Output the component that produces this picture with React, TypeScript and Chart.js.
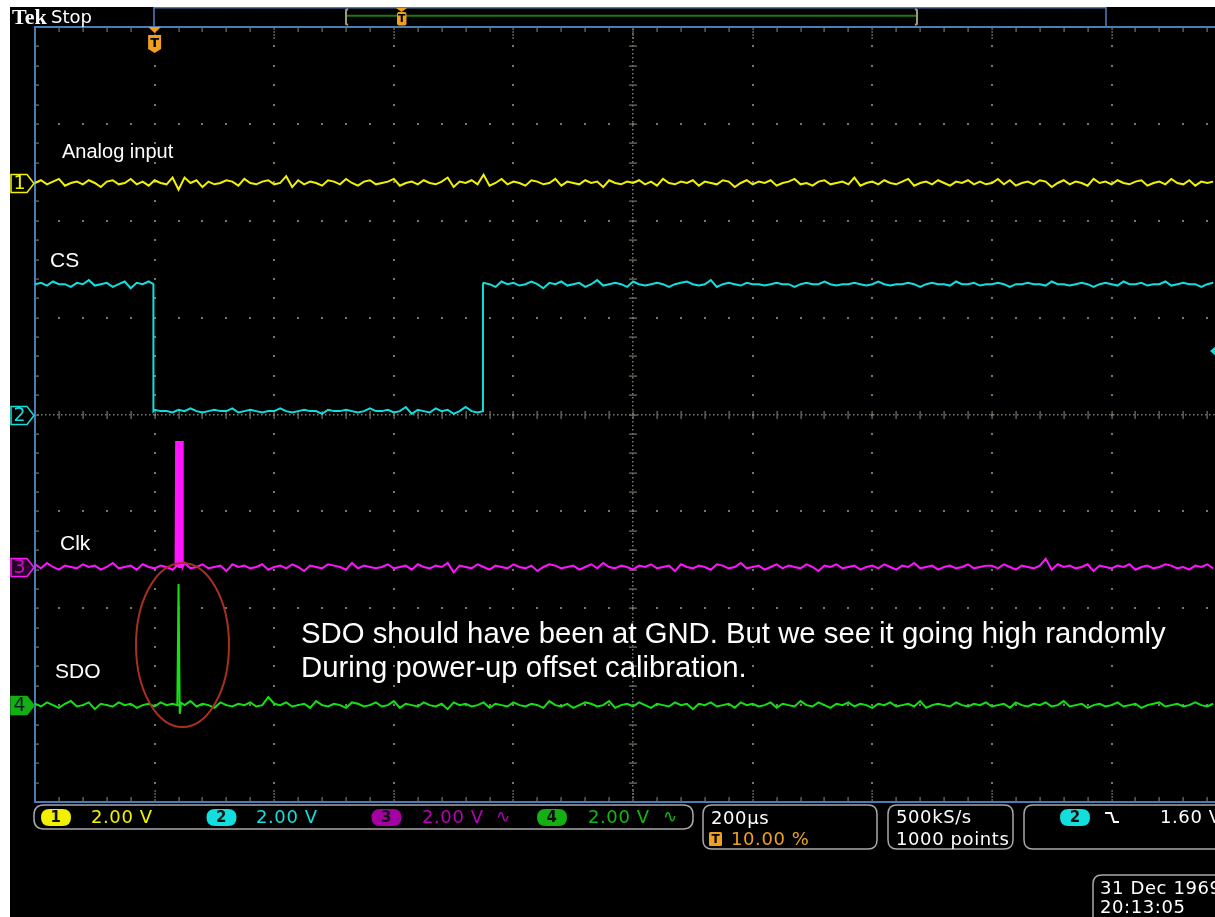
import React, { useEffect, useRef } from "react";
import { Chart, registerables } from "chart.js";

Chart.register(...registerables);

const W = 1215;
const H = 917;

// ---- acquisition settings ----
const timePerDivUs = 200;
const voltsPerDiv = 2;
const xStartUs = -200; // left graticule edge, trigger at 10 %
const xVisibleEndUs = 1773;
const noiseStepUs = 10;
const noiseLsbV = 0.028;

const channelNames = ["Analog input", "CS", "Clk", "SDO"];
const channelOffsetsDiv = [2.39, 0, -1.574, -3.0];
const channelScaleLabels = ["2.00 V", "2.00 V", "2.00 V", "2.00 V"];
const timebaseLabel = "200µs";
const triggerPosLabel = "10.00 %";
const sampleRateLabel = "500kS/s";
const recordLabel = "1000 points";
const triggerLevelLabel = "1.60 V";
const dateLabel = "31 Dec 1969";
const timeLabel = "20:13:05";
const annotationLines = [
  "SDO should have been at GND. But we see it going high randomly",
  "During power-up offset calibration.",
];

// ---- CS (channel 2) levels and edges ----
const csHighV = 2.69;
const csLowV = 0.07;
const csEdgeTimesUs = [-2, 549];

// ---- Clk (channel 3) burst ----
const clkBurstTimesUs = [35, 36, 37, 38, 39, 40, 41, 42, 43, 44, 45, 46, 47];
const clkBurstV = [0, 2.6, 0, 2.6, 0, 2.6, 0, 2.6, 0, 2.6, 0, 2.6, 0];

// ---- SDO (channel 4) glitch ----
const sdoSpikeTimesUs = [38, 40, 42, 44];
const sdoSpikeV = [0, 2.5, -0.18, 0.05];

// ---- baseline noise, in units of noiseLsbV, one value every noiseStepUs ----
const ch1Noise = [
  0, 2, -1, 1, 3, -2, 0, 1, -1, 2, 0, -3, 1, 2, -1, 0, 3, -1, 1, -2,
  2, 0, -1, 4, -5, 4, 0, 2, -3, 1, -1, 0, 2, 1, -2, 3, 0, -1, 1, 2,
  -1, 0, 5, -3, 2, -1, 1, 0, -2, 2, 1, -1, 3, 0, -2, 1, 2, -1, 0, 1,
  3, -2, 0, 1, -1, 2, 0, -1, 1, 4, -3, 1, 0, 2, -1, 6, -2, 0, 3, -1,
  1, 0, -2, 2, 1, -1, 0, 3, -2, 1, 0, -1, 2, 0, 1, -3, 2, 0, -1, 1,
  0, 2, -1, 1, -2, 3, 0, -1, 1, 0, 2, -2, 1, 0, -1, 2, 1, -3, 0, 2,
  -1, 1, 0, 2, -2, 0, 1, 3, -1, 0, -2, 1, 2, -1, 0, 1, -1, 4, -2, 0,
  1, -1, 2, 0, -1, 1, 3, -2, 0, 1, -1, 2, 0, -2, 1, 0, 2, -1, 1, -1,
  0, 3, -1, 2, -2, 0, 1, -1, 2, 1, -3, 0, 2, -1, 1, 0, -2, 3, 0, 1,
  -1, 2, 0, -1, 1, 2, -2, 0, 1, -1, 3, 0, -1, 2, -2, 1, 0, 1,
];
const ch2Noise = [
  0, 1, -1, 2, 0, 0, -2, 1, 0, 3, -1, 0, 1, -2, 0, 2, -3, 1, 0, 2,
  1, 0, 0, -1, 1, 0, 2, 0, -1, 0, 1, 0, 0, 2, -1, 0, 1, 0, -1, 0,
  0, 2, 0, -1, 0, 1, 0, 0, -2, 1, 0, 0, 1, 0, -1, 0, 2, 0, 0, 1,
  -1, 0, 3, -2, 1, 0, -1, 2, 0, 1, -2, 0, 3, 0, -1, 1, 0, -2, 2, 0,
  1, -1, 0, 2, 0, -3, 1, 0, 2, -1, 0, 1, -2, 0, 3, -1, 0, 1, 0, -2,
  2, 0, -1, 0, 1, 0, -2, 0, 1, 2, 0, -1, 0, 3, -2, 0, 1, 0, -1, 1,
  0, 0, -1, 0, 1, 0, 0, -2, 0, 1, 0, 0, 2, 0, -1, 0, 0, 1, 0, -1,
  0, 2, 0, -1, 0, 0, 1, 0, -2, 0, 1, 0, 0, -1, 2, 0, 0, 1, -1, 0,
  0, 1, 0, -2, 0, 0, 1, 0, 0, -1, 2, 0, 0, -1, 0, 1, 0, -2, 0, 1,
  0, -1, 2, 0, 0, 1, -1, 0, 0, 2, -1, 0, 1, 0, 0, -2, 0, 1,
];
const ch3Noise = [
  2, -1, 3, 0, -2, 1, 0, -1, 2, 0, 1, -2, 0, 3, -1, 0, 1, -2, 2, 0,
  -1, 1, 0, -2, 1, 3, -1, 0, 2, -1, 0, 1, -3, 2, 0, 1, -1, 0, 2, -2,
  0, 1, -1, 2, 0, -3, 1, 0, -1, 2, 1, 0, -2, 3, -1, 1, 0, -1, 0, 2,
  -1, 0, 1, -2, 2, 0, -1, 1, 0, 3, -4, 1, 0, -1, 2, 0, -2, 1, 0, -1,
  2, 0, -1, 1, -3, 0, 2, 1, -1, 0, 1, -2, 0, 2, -1, 3, 0, -1, 1, 0,
  -2, 1, 0, 2, -1, 0, 1, -3, 2, 0, -1, 1, 0, -2, 2, 1, -1, 0, 3, -1,
  0, 1, -2, 0, 2, -1, 1, 0, -1, 2, 0, -3, 1, 0, 2, -1, 0, 1, -2, 0,
  1, -1, 2, 0, -2, 1, 0, 3, -1, 0, 1, -2, 0, 1, -1, 0, 2, -1, 0, 1,
  1, -1, 2, 0, -2, 1, 0, -1, 1, 6, -2, 2, 0, 1, -1, 0, 2, -3, 1, 0,
  -1, 1, 0, 2, -2, 0, 1, -1, 0, 2, 1, -1, 0, -2, 1, 0, 2, -1,
];
const ch4Noise = [
  1, -1, 2, 0, -2, 1, 3, -1, 0, 2, -3, 1, 0, -1, 2, 0, 1, -2, 0, 1,
  -1, 2, 0, 1, -2, 0, 3, -1, 1, 0, -2, 2, 0, -1, 1, 0, 2, -1, 0, 6,
  1, 0, 2, -1, 0, 1, -2, 3, 0, -1, 1, 0, -2, 2, 1, -1, 0, 2, -1, 0,
  3, -2, 1, 0, -1, 2, 0, -1, 1, -3, 2, 0, 1, -1, 0, 2, -2, 1, 0, -1,
  2, 0, -1, 1, 0, -2, 3, 0, -1, 1, -2, 0, 2, 1, -1, 0, 3, -2, 0, 1,
  -1, 2, 0, -2, 1, 0, -1, 2, 0, 1, -3, 1, 0, 2, -1, 0, 1, -2, 2, 0,
  1, -1, 0, 2, -2, 1, 0, -1, 3, 0, -1, 2, 0, -2, 1, 0, 2, -1, 1, 0,
  -2, 1, 0, 2, -1, 0, 1, -1, 3, -2, 0, 1, 0, -1, 2, 0, -1, 1, 0, 2,
  -1, 0, 1, -2, 2, 0, -1, 1, 0, 2, -1, 0, 3, -1, 0, 1, -2, 0, 1, -1,
  0, 2, -1, 0, 1, -2, 0, 1, 2, -1, 0, 1, -1, 0, 2, 0, -1, 1,
];

const COLORS = {
  ch1: "#f2f200",
  ch2: "#12dede",
  ch3: "#ff14ff",
  ch4: "#14e014",
  border: "#4a7cb6",
  grid: "#77776a",
  orange: "#f0a020",
};

type Pt = { x: number; y: number };

function toDiv(offsetDiv: number, v: number) {
  return offsetDiv + v / voltsPerDiv;
}

function noisePoints(
  noise: number[],
  offsetDiv: number,
  level: (t: number) => number,
  skip?: [number, number]
): Pt[] {
  const pts: Pt[] = [];
  noise.forEach((n, i) => {
    const t = xStartUs + i * noiseStepUs;
    if (skip && t > skip[0] && t < skip[1]) return;
    pts.push({ x: t, y: toDiv(offsetDiv, level(t) + n * noiseLsbV) });
  });
  return pts;
}

function buildData() {
  const ch1 = noisePoints(ch1Noise, channelOffsetsDiv[0], () => 0);

  const csLevel = (t: number) =>
    t < csEdgeTimesUs[0] || t >= csEdgeTimesUs[1] ? csHighV : csLowV;
  const csEdges: Pt[] = [
    { x: csEdgeTimesUs[0], y: toDiv(channelOffsetsDiv[1], csHighV) },
    { x: csEdgeTimesUs[0], y: toDiv(channelOffsetsDiv[1], csLowV) },
    { x: csEdgeTimesUs[1], y: toDiv(channelOffsetsDiv[1], csLowV) },
    { x: csEdgeTimesUs[1], y: toDiv(channelOffsetsDiv[1], csHighV) },
  ];
  const ch2 = noisePoints(ch2Noise, channelOffsetsDiv[1], csLevel)
    .concat(csEdges)
    .sort((a, b) => a.x - b.x);

  const clkPts = clkBurstTimesUs.map((t, i) => ({
    x: t,
    y: toDiv(channelOffsetsDiv[2], clkBurstV[i]),
  }));
  const ch3 = noisePoints(ch3Noise, channelOffsetsDiv[2], () => 0, [30, 50])
    .concat(clkPts)
    .sort((a, b) => a.x - b.x);

  const sdoPts = sdoSpikeTimesUs.map((t, i) => ({
    x: t,
    y: toDiv(channelOffsetsDiv[3], sdoSpikeV[i]),
  }));
  const ch4 = noisePoints(ch4Noise, channelOffsetsDiv[3], () => 0, [30, 50])
    .concat(sdoPts)
    .sort((a, b) => a.x - b.x);

  return [ch1, ch2, ch3, ch4];
}

function roundRect(
  ctx: CanvasRenderingContext2D,
  x: number,
  y: number,
  w: number,
  h: number,
  r: number
) {
  ctx.beginPath();
  ctx.moveTo(x + r, y);
  ctx.lineTo(x + w - r, y);
  ctx.quadraticCurveTo(x + w, y, x + w, y + r);
  ctx.lineTo(x + w, y + h - r);
  ctx.quadraticCurveTo(x + w, y + h, x + w - r, y + h);
  ctx.lineTo(x + r, y + h);
  ctx.quadraticCurveTo(x, y + h, x, y + h - r);
  ctx.lineTo(x, y + r);
  ctx.quadraticCurveTo(x, y, x + r, y);
  ctx.closePath();
}

const scopePlugin = {
  id: "scopeScreen",
  beforeDraw(chart: any) {
    const ctx: CanvasRenderingContext2D = chart.ctx;
    ctx.save();
    ctx.fillStyle = "#ffffff";
    ctx.fillRect(0, 0, W, H);
    ctx.fillStyle = "#000000";
    ctx.fillRect(10, 7, W - 10, H - 7);
    ctx.restore();
  },
  beforeDatasetsDraw(chart: any) {
    const ctx: CanvasRenderingContext2D = chart.ctx;
    const xs = chart.scales.x;
    const ys = chart.scales.y;
    const left = xs.getPixelForValue(xStartUs);
    const divW = xs.getPixelForValue(xStartUs + timePerDivUs) - left;
    const top = ys.getPixelForValue(4);
    const bottom = ys.getPixelForValue(-4);
    const divH = ys.getPixelForValue(0) - ys.getPixelForValue(1);
    const cx = left + 5 * divW;
    const cy = ys.getPixelForValue(0);
    ctx.save();
    ctx.fillStyle = COLORS.grid;
    // vertical major lines (dotted)
    for (let k = 1; k <= 9; k++) {
      if (k === 5) continue;
      const x = Math.round(left + k * divW);
      for (let m = 1; m < 40; m++) {
        const y = Math.round(top + (m * divH) / 5);
        ctx.fillRect(x - 1, y - 1, 2, 2);
      }
    }
    // horizontal major lines (dotted)
    for (let j = 1; j <= 7; j++) {
      if (j === 4) continue;
      const y = Math.round(top + j * divH);
      for (let m = 1; m < 50; m++) {
        const x = Math.round(left + (m * divW) / 5);
        if (x > W) break;
        ctx.fillRect(x - 1, y - 1, 2, 2);
      }
    }
    // center vertical line
    for (let y = top + 2; y < bottom; y += 4) ctx.fillRect(Math.round(cx) - 1, y, 1.5, 1.5);
    for (let m = 1; m < 40; m++) {
      const y = Math.round(top + (m * divH) / 5);
      ctx.fillRect(Math.round(cx) - 4, y - 0.5, 8, 1.2);
    }
    // center horizontal line
    for (let x = left + 2; x < W; x += 4) ctx.fillRect(x, Math.round(cy) - 1, 1.5, 1.5);
    for (let m = 1; m < 50; m++) {
      const x = Math.round(left + (m * divW) / 5);
      if (x > W) break;
      ctx.fillRect(x - 0.5, Math.round(cy) - 4, 1.2, 8);
    }
    // border ticks
    for (let m = 1; m < 50; m++) {
      const x = Math.round(left + (m * divW) / 5);
      if (x > W) break;
      if (m % 5 === 0) {
        for (let d = 0; d < 12; d += 3) {
          ctx.fillRect(x - 0.5, top + 1 + d, 1.2, 2);
          ctx.fillRect(x - 0.5, bottom - 3 - d, 1.2, 2);
        }
      } else {
        ctx.fillRect(x - 0.5, top + 1, 1.2, 4);
        ctx.fillRect(x - 0.5, bottom - 5, 1.2, 4);
      }
    }
    for (let m = 1; m < 40; m++) {
      const y = Math.round(top + (m * divH) / 5);
      ctx.fillRect(left + 1, y - 0.5, 3, 1.2);
    }
    // blue borders
    ctx.strokeStyle = COLORS.border;
    ctx.lineWidth = 2;
    ctx.beginPath();
    ctx.moveTo(left, top);
    ctx.lineTo(left, bottom);
    ctx.moveTo(left - 1, top);
    ctx.lineTo(W, top);
    ctx.moveTo(left - 1, bottom);
    ctx.lineTo(W, bottom);
    ctx.stroke();
    // record view bar
    ctx.lineWidth = 1.6;
    ctx.beginPath();
    ctx.moveTo(154, top);
    ctx.lineTo(154, 7.8);
    ctx.lineTo(1106, 7.8);
    ctx.lineTo(1106, top);
    ctx.stroke();
    ctx.strokeStyle = "#1a7a1a";
    ctx.lineWidth = 2;
    ctx.beginPath();
    ctx.moveTo(347, 15.7);
    ctx.lineTo(916, 15.7);
    ctx.stroke();
    ctx.strokeStyle = "#a09878";
    ctx.lineWidth = 2;
    ctx.beginPath();
    ctx.moveTo(348, 9);
    ctx.lineTo(346, 10);
    ctx.lineTo(346, 24);
    ctx.lineTo(348, 25);
    ctx.moveTo(915, 9);
    ctx.lineTo(917, 10);
    ctx.lineTo(917, 24);
    ctx.lineTo(915, 25);
    ctx.stroke();
    ctx.restore();
  },
  afterDraw(chart: any) {
    const ctx: CanvasRenderingContext2D = chart.ctx;
    const xs = chart.scales.x;
    const ys = chart.scales.y;
    const top = ys.getPixelForValue(4);
    const trigX = xs.getPixelForValue(0);
    ctx.save();

    // Tek Stop
    ctx.fillStyle = "#ffffff";
    ctx.textBaseline = "alphabetic";
    ctx.font = "bold 22px 'Liberation Serif'";
    ctx.fillText("Tek", 12, 24);
    ctx.font = "18px 'DejaVu Sans'";
    ctx.fillText("Stop", 51, 23);

    // trigger markers
    const drawT = (x: number, y: number, size: number) => {
      ctx.fillStyle = "#000";
      ctx.font = `bold ${size}px 'DejaVu Sans'`;
      ctx.textAlign = "center";
      ctx.textBaseline = "middle";
      ctx.fillText("T", x, y);
      ctx.textAlign = "left";
      ctx.textBaseline = "alphabetic";
    };
    ctx.fillStyle = COLORS.orange;
    ctx.beginPath();
    ctx.moveTo(trigX - 6.5, top);
    ctx.lineTo(trigX + 6.5, top);
    ctx.lineTo(trigX, top + 6);
    ctx.closePath();
    ctx.fill();
    ctx.beginPath();
    ctx.moveTo(trigX - 6.5, top + 8);
    ctx.lineTo(trigX + 6.5, top + 8);
    ctx.lineTo(trigX + 6.5, top + 22);
    ctx.lineTo(trigX, top + 26);
    ctx.lineTo(trigX - 6.5, top + 22);
    ctx.closePath();
    ctx.fill();
    drawT(trigX, top + 16.5, 13);
    ctx.fillStyle = COLORS.orange;
    ctx.beginPath();
    ctx.moveTo(396, 8);
    ctx.lineTo(407, 8);
    ctx.lineTo(401.5, 12);
    ctx.closePath();
    ctx.fill();
    roundRect(ctx, 397, 12, 9.5, 13.5, 2);
    ctx.fill();
    drawT(401.7, 19, 11);

    // channel markers
    const chColors = [COLORS.ch1, COLORS.ch2, COLORS.ch3, COLORS.ch4];
    channelOffsetsDiv.forEach((off, i) => {
      const y = Math.round(ys.getPixelForValue(off)) + 0.5;
      ctx.beginPath();
      ctx.moveTo(11, y - 9);
      ctx.lineTo(27, y - 9);
      ctx.lineTo(34, y);
      ctx.lineTo(27, y + 9);
      ctx.lineTo(11, y + 9);
      ctx.closePath();
      ctx.fillStyle = i === 3 ? "#12b012" : i === 2 ? "#2a002a" : "#000";
      ctx.fill();
      ctx.strokeStyle = i === 3 ? "#12b012" : chColors[i];
      ctx.lineWidth = 1.5;
      ctx.stroke();
      ctx.fillStyle = i === 3 ? "#022" : i === 2 ? "#c010c0" : chColors[i];
      ctx.font = "19px 'DejaVu Sans'";
      ctx.textAlign = "center";
      ctx.textBaseline = "middle";
      ctx.fillText(String(i + 1), 19.5, y + 1);
      ctx.textAlign = "left";
      ctx.textBaseline = "alphabetic";
    });

    // channel name labels
    ctx.fillStyle = "#ffffff";
    ctx.font = "20px 'Liberation Sans'";
    ctx.fillText(channelNames[0], 62, 158);
    ctx.font = "21px 'Liberation Sans'";
    ctx.fillText(channelNames[1], 50, 267);
    ctx.fillText(channelNames[2], 60, 550);
    ctx.fillText(channelNames[3], 55, 678);

    // annotation
    ctx.font = "29.3px 'Liberation Sans'";
    ctx.fillText(annotationLines[0], 301, 643);
    ctx.fillText(annotationLines[1], 301, 677);

    // red ellipse
    ctx.strokeStyle = "#a83020";
    ctx.lineWidth = 2;
    ctx.beginPath();
    ctx.ellipse(182.5, 645, 46.5, 82, 0, 0, Math.PI * 2);
    ctx.stroke();

    // trigger level marker at right edge
    ctx.fillStyle = COLORS.ch2;
    ctx.beginPath();
    ctx.moveTo(1210, 351);
    ctx.lineTo(1216, 346);
    ctx.lineTo(1216, 356);
    ctx.closePath();
    ctx.fill();

    // bottom readouts
    ctx.strokeStyle = "#a8a8a8";
    ctx.lineWidth = 1.5;
    roundRect(ctx, 34, 805, 659, 24, 10);
    ctx.stroke();
    roundRect(ctx, 703, 805, 174, 44, 9);
    ctx.stroke();
    roundRect(ctx, 888, 805, 125, 44, 9);
    ctx.stroke();
    roundRect(ctx, 1024, 805, 230, 44, 9);
    ctx.stroke();
    roundRect(ctx, 1093, 875, 160, 60, 9);
    ctx.stroke();

    const pill = (cx: number, fill: string, label: string) => {
      ctx.fillStyle = fill;
      roundRect(ctx, cx - 15, 809, 30, 17, 8.5);
      ctx.fill();
      ctx.fillStyle = "#111";
      ctx.font = "bold 15px 'DejaVu Sans'";
      ctx.textAlign = "center";
      ctx.textBaseline = "middle";
      ctx.fillText(label, cx, 818);
      ctx.textAlign = "left";
      ctx.textBaseline = "alphabetic";
    };
    const pillFills = ["#f2f200", "#12dede", "#a400a4", "#12b012"];
    const pillX = [56, 221.5, 386.5, 552];
    const textX = [91, 256, 422, 588];
    const textColors = ["#f2f200", "#12dede", "#b800b8", "#12b812"];
    ctx.letterSpacing = "0.6px";
    channelScaleLabels.forEach((lab, i) => {
      pill(pillX[i], pillFills[i], String(i + 1));
      ctx.fillStyle = textColors[i];
      ctx.font = "18px 'DejaVu Sans'";
      ctx.fillText(lab, textX[i], 823);
    });
    ctx.font = "17px 'DejaVu Sans'";
    ctx.fillStyle = textColors[2];
    ctx.fillText("∿", 496, 822);
    ctx.fillStyle = textColors[3];
    ctx.fillText("∿", 663, 822);

    ctx.font = "18px 'DejaVu Sans'";
    ctx.fillStyle = "#ffffff";
    ctx.fillText(timebaseLabel, 711, 824);
    ctx.fillStyle = COLORS.orange;
    roundRect(ctx, 709, 832, 13, 14, 1.5);
    ctx.fill();
    ctx.letterSpacing = "0px";
    drawT(715.5, 839.5, 12);
    ctx.letterSpacing = "0.6px";
    ctx.fillStyle = COLORS.orange;
    ctx.font = "18px 'DejaVu Sans'";
    ctx.fillText(triggerPosLabel, 731, 845);

    ctx.fillStyle = "#ffffff";
    ctx.fillText(sampleRateLabel, 896, 823);
    ctx.fillText(recordLabel, 896, 845);

    ctx.letterSpacing = "0px";
    pill(1075, "#12dede", "2");
    ctx.letterSpacing = "0.6px";
    ctx.strokeStyle = "#ffffff";
    ctx.lineWidth = 2;
    ctx.beginPath();
    ctx.moveTo(1105, 813);
    ctx.lineTo(1111, 813);
    ctx.lineTo(1114, 822);
    ctx.lineTo(1119, 822);
    ctx.stroke();
    ctx.fillStyle = "#ffffff";
    ctx.font = "18px 'DejaVu Sans'";
    ctx.fillText(triggerLevelLabel, 1160, 823);

    ctx.fillText(dateLabel, 1100, 894);
    ctx.fillText(timeLabel, 1100, 913);
    ctx.letterSpacing = "0px";

    ctx.restore();
  },
};

export default function App() {
  const canvasRef = useRef<HTMLCanvasElement | null>(null);

  useEffect(() => {
    const canvas = canvasRef.current;
    if (!canvas) return;
    const [ch1, ch2, ch3, ch4] = buildData();
    const mk = (label: string, data: Pt[], color: string) => ({
      label,
      data,
      borderColor: color,
      backgroundColor: color,
      borderWidth: 2,
      pointRadius: 0,
      tension: 0,
      fill: false,
    });
    const chart = new Chart(canvas, {
      type: "line",
      data: {
        datasets: [
          mk(channelNames[0], ch1, COLORS.ch1),
          mk(channelNames[1], ch2, COLORS.ch2),
          mk(channelNames[2], ch3, COLORS.ch3),
          mk(channelNames[3], ch4, COLORS.ch4),
        ],
      },
      options: {
        responsive: false,
        animation: false,
        devicePixelRatio: 1,
        parsing: false,
        normalized: true,
        layout: { padding: { left: 35, top: 27, right: 0, bottom: H - 802 } },
        plugins: { legend: { display: false }, tooltip: { enabled: false } },
        events: [],
        scales: {
          x: { type: "linear", display: false, min: xStartUs, max: xVisibleEndUs },
          y: { type: "linear", display: false, min: -4, max: 4 },
        },
      },
      plugins: [scopePlugin],
    } as any);
    return () => chart.destroy();
  }, []);

  return (
    <div style={{ position: "fixed", left: 0, top: 0, width: W, height: H }}>
      <canvas ref={canvasRef} width={W} height={H} style={{ display: "block" }} />
    </div>
  );
}
